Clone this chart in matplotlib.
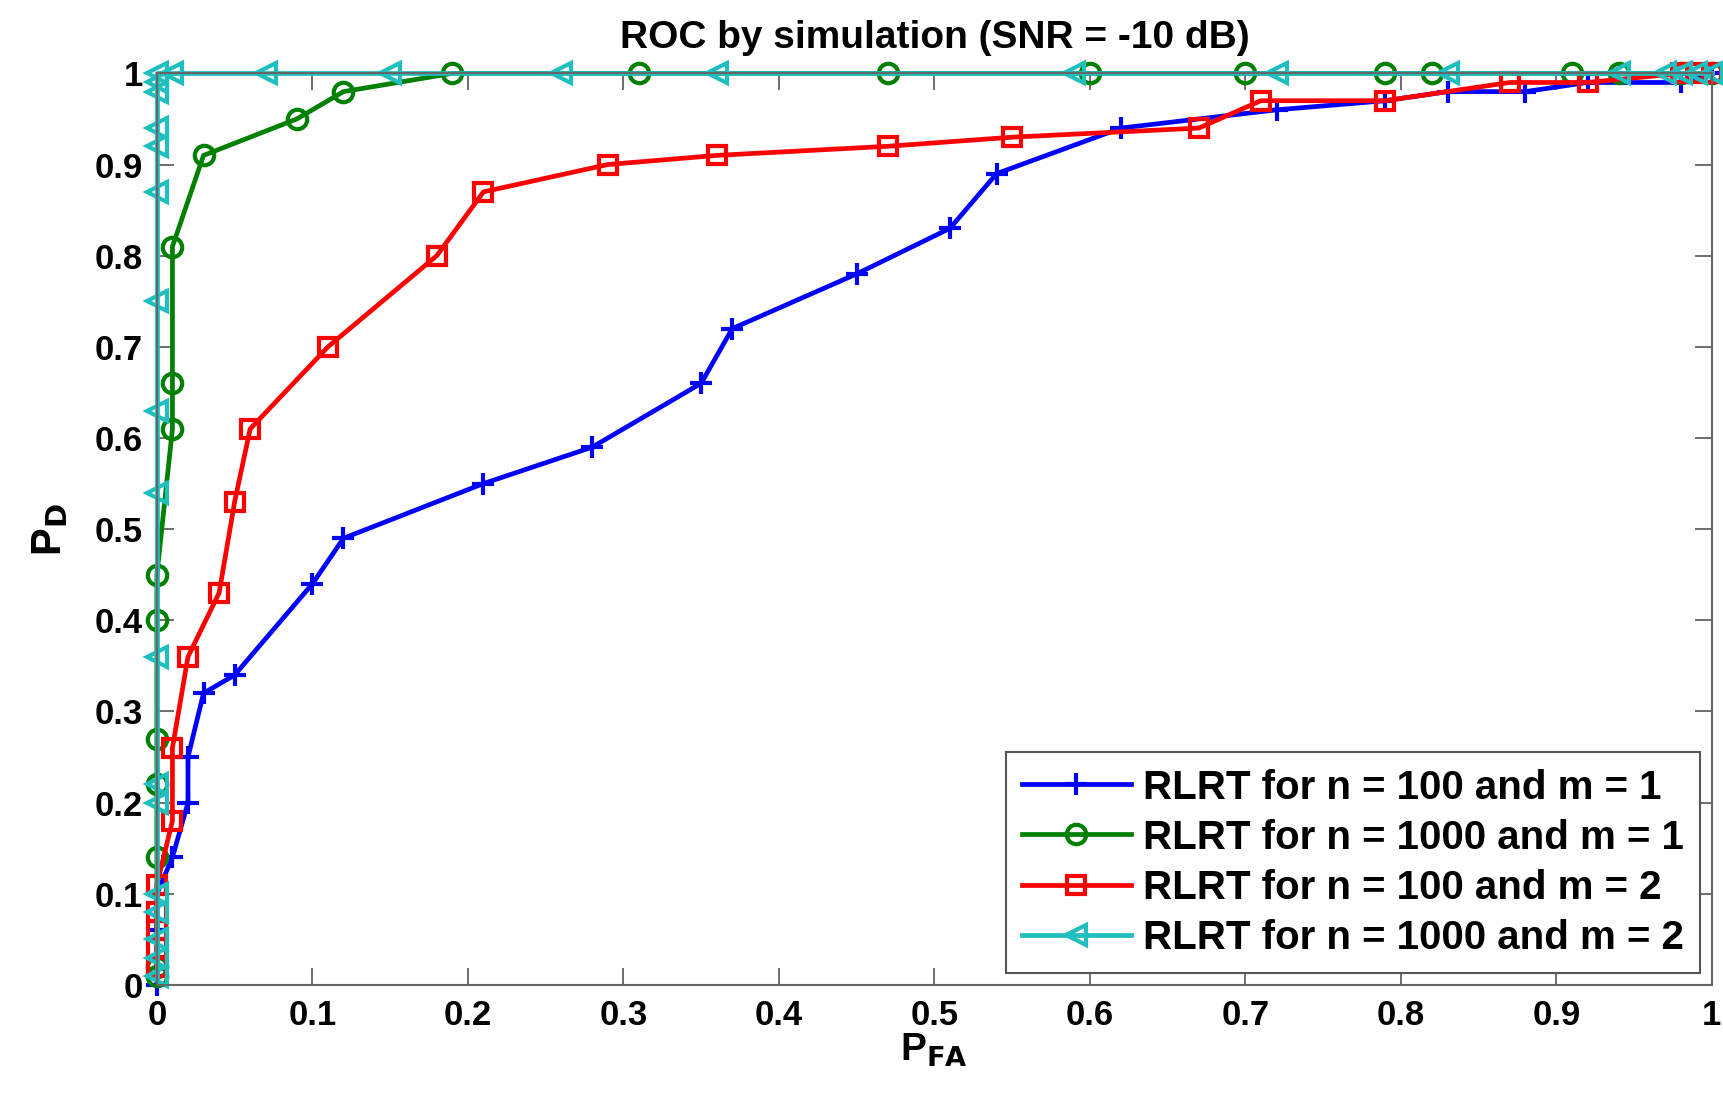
import matplotlib.pyplot as plt
import numpy as np

plt.rcParams['font.family'] = ['Liberation Sans', 'DejaVu Sans']
plt.rcParams['font.weight'] = 'bold'

# RLRT n=100, m=1
pfa_a = [0, 0, 0, 0, 0.01, 0.02, 0.02, 0.03, 0.05, 0.10, 0.12, 0.21, 0.28, 0.35, 0.37,
         0.45, 0.51, 0.54, 0.62, 0.72, 0.79, 0.83, 0.88, 0.92, 0.98, 1.0]
pd_a = [0, 0.03, 0.06, 0.10, 0.14, 0.20, 0.25, 0.32, 0.34, 0.44, 0.49, 0.55, 0.59, 0.66, 0.72,
        0.78, 0.83, 0.89, 0.94, 0.96, 0.97, 0.98, 0.98, 0.99, 0.99, 1.0]

# RLRT n=1000, m=1
pfa_b = [0, 0, 0, 0, 0, 0, 0, 0.01, 0.01, 0.01, 0.03, 0.09, 0.12, 0.19, 0.31, 0.47,
         0.60, 0.70, 0.79, 0.82, 0.91, 0.94, 0.98, 1.0]
pd_b = [0.01, 0.02, 0.14, 0.22, 0.27, 0.40, 0.45, 0.61, 0.66, 0.81, 0.91, 0.95, 0.98, 1.0, 1.0, 1.0,
        1.0, 1.0, 1.0, 1.0, 1.0, 1.0, 1.0, 1.0]

# RLRT n=100, m=2
pfa_c = [0, 0, 0, 0, 0, 0.01, 0.01, 0.02, 0.04, 0.05, 0.06, 0.11, 0.18, 0.21, 0.29, 0.36,
         0.47, 0.55, 0.67, 0.71, 0.79, 0.87, 0.92, 0.98, 0.99, 1.0]
pd_c = [0.02, 0.04, 0.06, 0.08, 0.11, 0.18, 0.26, 0.36, 0.43, 0.53, 0.61, 0.70, 0.80, 0.87, 0.90, 0.91,
        0.92, 0.93, 0.94, 0.97, 0.97, 0.99, 0.99, 1.0, 1.0, 1.0]

# RLRT n=1000, m=2
pfa_d = [0, 0, 0, 0, 0, 0, 0, 0, 0, 0, 0, 0, 0, 0, 0, 0, 0,
         0.01, 0.07, 0.15, 0.26, 0.36, 0.59, 0.72, 0.83, 0.94, 0.97, 0.98, 0.99, 1.0]
pd_d = [0.01, 0.03, 0.05, 0.08, 0.10, 0.20, 0.22, 0.36, 0.54, 0.63, 0.75, 0.87, 0.92, 0.94, 0.98, 0.99, 1.0,
        1.0, 1.0, 1.0, 1.0, 1.0, 1.0, 1.0, 1.0, 1.0, 1.0, 1.0, 1.0, 1.0]

fig = plt.figure(figsize=(17.24, 10.95), dpi=100)
ax = fig.add_axes([0.091, 0.1005, 0.902, 0.8325])

lw = 3.4
ax.plot(pfa_a, pd_a, color='blue', marker='+', ms=16, mew=3, lw=lw, clip_on=False,
        label='RLRT for n = 100 and m = 1')
ax.plot(pfa_b, pd_b, color='green', marker='o', ms=14, mew=3, mfc='none', lw=lw, clip_on=False,
        label='RLRT for n = 1000 and m = 1')
ax.plot(pfa_c, pd_c, color='red', marker='s', ms=13, mew=3, mfc='none', lw=lw, clip_on=False,
        label='RLRT for n = 100 and m = 2')
ax.plot(pfa_d, pd_d, color='#1fbfbf', marker='<', ms=14, mew=3, mfc='none', lw=lw, clip_on=False,
        label='RLRT for n = 1000 and m = 2')

ax.set_xlim(0, 1)
ax.set_ylim(0, 1)
ticks = np.round(np.arange(0, 1.01, 0.1), 1)
labels = ['0'] + ['%.1f' % t for t in ticks[1:-1]] + ['1']
ax.set_xticks(ticks)
ax.set_xticklabels(labels)
ax.set_yticks(ticks)
ax.set_yticklabels(labels)
ax.tick_params(direction='in', length=12, width=1.2, labelsize=25, top=True, right=True,
               color='#555555', pad=10)
for s in ax.spines.values():
    s.set_color('#666666')
    s.set_linewidth(1.5)

ax.set_xlabel(r'P$_{\mathbf{FA}}$', fontsize=28, fontweight='bold', labelpad=0)
ax.set_ylabel(r'P$_{\mathbf{D}}$', fontsize=30, fontweight='bold', labelpad=18)
ax.set_title('ROC by simulation (SNR = -10 dB)', fontsize=28, fontweight='bold', pad=18)

leg = ax.legend(loc='lower right', fontsize=29, fancybox=False, framealpha=1,
                edgecolor='#555555', borderaxespad=0.3, handlelength=2.7, labelspacing=0.3,
                handletextpad=0.3, borderpad=0.4)
leg.get_frame().set_linewidth(1.5)

fig.savefig('out.png', dpi=100)
